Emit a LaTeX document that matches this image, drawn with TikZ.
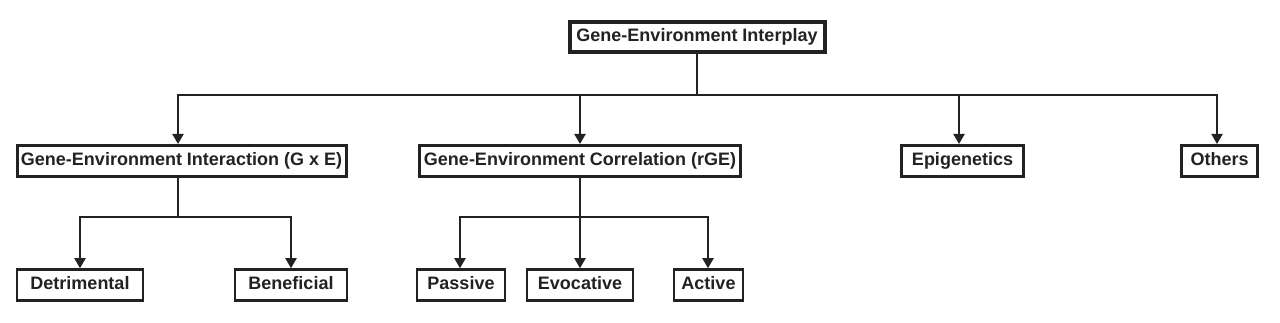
\documentclass[tikz,border=0pt]{standalone}
\usepackage{fontspec}
\setmainfont{Liberation Sans}
\usetikzlibrary{arrows.meta}
\definecolor{ink}{HTML}{222222}
\tikzset{
  box/.style={draw=ink, fill=white, text=ink, inner sep=0pt, text height=13pt, text depth=3.5pt, font=\fontsize{18}{21}\selectfont\bfseries, anchor=center},
  boxa/.style={box, line width=4pt},
  boxb/.style={box, line width=3pt},
  boxc/.style={box, line width=2.5pt},
  conn/.style={draw=ink, line width=2pt},
  arr/.style={conn, -{Triangle[length=10pt,width=11pt]}},
}
\begin{document}
\begin{tikzpicture}[x=1pt,y=-1pt]
\useasboundingbox (0,0) rectangle (1280,323);
% top
\node[boxa, minimum width=255pt, minimum height=30pt] (top) at (697,37) {Gene-Environment Interplay};
% level 2
\node[boxb, minimum width=329pt, minimum height=31pt] (gxe) at (181.5,161) {Gene-Environment Interaction (G x E)};
\node[boxb, minimum width=321pt, minimum height=31pt] (rge) at (580,161) {Gene-Environment Correlation (rGE)};
\node[boxb, minimum width=122pt, minimum height=31pt] (epi) at (962.5,161) {Epigenetics};
\node[boxb, minimum width=76pt, minimum height=31pt] (oth) at (1219.5,161) {Others};
% level 3
\node[boxc, minimum width=126pt, minimum height=31pt] (det) at (80,285) {Detrimental};
\node[boxc, minimum width=112pt, minimum height=31pt] (ben) at (291,285) {Beneficial};
\node[boxc, minimum width=88pt, minimum height=31pt] (pas) at (461,285) {Passive};
\node[boxc, minimum width=106pt, minimum height=31pt] (evo) at (580,285) {Evocative};
\node[boxc, minimum width=69pt, minimum height=31pt] (act) at (708.5,285) {Active};
% junctions
\coordinate (j1) at (697,95);
\coordinate (j2) at (178,217);
\coordinate (j3) at (580,217);
% connectors
\draw[conn] (top.south) -- (j1);
\draw[arr] (j1) -| ([xshift=-3.5pt]gxe.north);
\draw[arr] (j1) -| (rge.north);
\draw[arr] (j1) -| ([xshift=-3.5pt]epi.north);
\draw[arr] (j1) -| ([xshift=-2.5pt]oth.north);
\draw[conn] ([xshift=-3.5pt]gxe.south) -- (j2);
\draw[arr] (j2) -| (det.north);
\draw[arr] (j2) -| (ben.north);
\draw[conn] (rge.south) -- (j3);
\draw[arr] (j3) -| ([xshift=-1pt]pas.north);
\draw[arr] (j3) -| (evo.north);
\draw[arr] (j3) -| ([xshift=-0.5pt]act.north);
\end{tikzpicture}
\end{document}
